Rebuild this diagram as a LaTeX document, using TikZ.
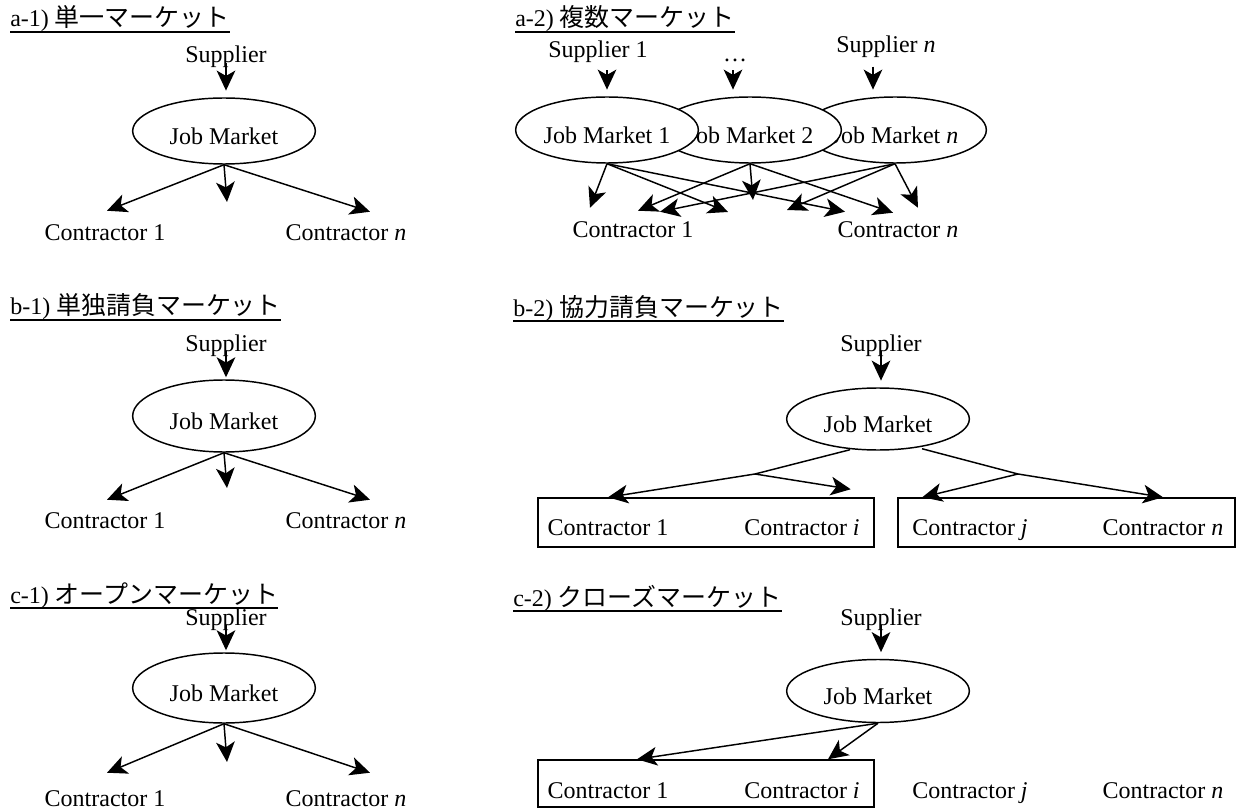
\documentclass[tikz,border=0pt]{standalone}
\usepackage{fontspec}
\setmainfont{Liberation Serif}
\newfontfamily\jpfont[Scale=1.04]{Noto Sans CJK JP}
\usetikzlibrary{arrows.meta,shapes.geometric,calc}

\tikzset{
	arr/.style={-{Stealth[length=15pt,width=14pt,inset=4pt]}, line width=1.1pt},
	feed/.style={arr, shorten >=5pt},
	jm/.style={ellipse, draw, line width=1.1pt, fill=white, inner sep=0pt, minimum width=137pt, minimum height=49.5pt, text height=20pt, text depth=0pt},
	lbl/.style={inner sep=0pt, text height=12pt, text depth=0pt},
	grp/.style={draw, line width=1.1pt, inner sep=0pt, minimum height=36.75pt},
	ttl/.style={anchor=base west, inner sep=0pt},
	uline/.style={line width=1.3pt}
}

\begin{document}
\begin{tikzpicture}[x=0.75pt, y=-0.75pt, font=\fontsize{18}{22}\selectfont]
		\useasboundingbox (0,0) rectangle (1239,809);
		
		%a-1 single market
		\node[ttl] (a1t) at (10,27) {a-1) {\jpfont 単一マーケット}};
		\node[lbl] (a1sup) at (226,55) {Supplier};
		\node[jm] (a1jm) at (224,131) {Job Market};
		\node[lbl] (a1c1) at (105,233) {Contractor 1};
		\node[lbl] (a1cn) at (346,233) {Contractor \textit{n}};
		\coordinate (a1mid) at (227,202);
		\draw[feed] (a1sup.south) -- (a1sup.south |- a1jm.north);
		\draw[arr] (a1jm.south) -- ($(a1c1.north)+(2,-14)$);
		\draw[arr] (a1jm.south) -- (a1mid);
		\draw[arr] (a1jm.south) -- ($(a1cn.north)+(24,-13)$);
		
		%b-1 single contract
		\node[ttl] (b1t) at (10,315) {b-1) {\jpfont 単独請負マーケット}};
		\node[lbl] (b1sup) at (226,343) {Supplier};
		\node[jm, minimum height=54pt] (b1jm) at (224,416) {Job Market};
		\node[lbl] (b1c1) at (105,520) {Contractor 1};
		\node[lbl] (b1cn) at (346,520) {Contractor \textit{n}};
		\coordinate (b1mid) at (227,488);
		\draw[feed, shorten >=1.5pt] (b1sup.south) -- (b1sup.south |- b1jm.north);
		\draw[arr] (b1jm.south) -- ($(b1c1.north)+(2,-12)$);
		\draw[arr] (b1jm.south) -- (b1mid);
		\draw[arr] (b1jm.south) -- ($(b1cn.north)+(24,-12)$);
		
		%c-1 open market
		\node[ttl] (c1t) at (10,603) {c-1) {\jpfont オープンマーケット}};
		\node[lbl] (c1sup) at (226,617) {Supplier};
		\node[jm, minimum height=52.5pt] (c1jm) at (224,688) {Job Market};
		\node[lbl] (c1c1) at (105,798) {Contractor 1};
		\node[lbl] (c1cn) at (346,798) {Contractor \textit{n}};
		\coordinate (c1mid) at (227,762);
		\draw[feed, shorten >=1.5pt] (c1sup.south) -- (c1sup.south |- c1jm.north);
		\draw[arr] (c1jm.south) -- ($(c1c1.north)+(2,-17)$);
		\draw[arr] (c1jm.south) -- (c1mid);
		\draw[arr] (c1jm.south) -- ($(c1cn.north)+(24,-17)$);
		
		%a-2 several markets
		\node[ttl] (a2t) at (515,27) {a-2) {\jpfont 複数マーケット}};
		\node[lbl] (a2s1) at (598,50) {Supplier 1};
		\node[lbl] (a2dots) at (735,54) {\ldots};
		\node[lbl] (a2sn) at (886,45) {Supplier \textit{n}};
		\node[jm] (a2jmn) at (895,130) {Job Market \textit{n}};
		\node[jm] (a2jm2) at (750,130) {Job Market 2};
		\node[jm] (a2jm1) at (607,130) {Job Market 1};
		\node[lbl] (a2c1) at (633,230) {Contractor 1};
		\node[lbl] (a2cn) at (898,230) {Contractor \textit{n}};
		\coordinate (a2m1) at (728,212);
		\coordinate (a2m2) at (753,200);
		\coordinate (a2m3) at (787,210);
		\draw[feed, shorten <=9pt] (a2jm1.north |- a2s1.south) -- (a2jm1.north);
		\draw[feed, shorten <=6pt] ($(a2dots.south)+(-2,0)$) -- ($(a2dots.south |- a2jm2.north)+(-2,0)$);
		\draw[feed, shorten <=10pt] ($(a2sn.south)+(-13,0)$) -- ($(a2sn.south |- a2jmn.north)+(-13,0)$);
		\draw[arr] (a2jm1.south) -- ($(a2c1.north)+(-43,-14)$);
		\draw[arr] (a2jm1.south) -- (a2m1);
		\draw[arr] (a2jm1.south) -- ($(a2cn.north)+(-53,-10)$);
		\draw[arr] (a2jm2.south) -- ($(a2c1.north)+(5,-11)$);
		\draw[arr] (a2jm2.south) -- (a2m2);
		\draw[arr] (a2jm2.south) -- ($(a2cn.north)+(-5,-9)$);
		\draw[arr] (a2jmn.south) -- ($(a2c1.north)+(27,-10)$);
		\draw[arr] (a2jmn.south) -- (a2m3);
		\draw[arr] (a2jmn.south) -- ($(a2cn.north)+(20,-14)$);
		
		%b-2 joint contract
		\node[ttl] (b2t) at (513,316) {b-2) {\jpfont 協力請負マーケット}};
		\node[lbl] (b2sup) at (881,343) {Supplier};
		\node[jm, minimum height=46.5pt] (b2jm) at (878,419) {Job Market};
		\node[lbl] (b2c1) at (608,527) {Contractor 1};
		\node[lbl] (b2ci) at (802,527) {Contractor \textit{i}};
		\node[lbl] (b2cj) at (970,527) {Contractor \textit{j}};
		\node[lbl] (b2cn) at (1163,527) {Contractor \textit{n}};
		\node[grp, minimum width=252pt] (b2gl) at (706,522.5) {};
		\node[grp, minimum width=252.75pt] (b2gr) at (1066.5,522.5) {};
		\coordinate (b2jl) at (755,474);
		\coordinate (b2jr) at (1018,474);
		\draw[feed] (b2sup.south) -- (b2sup.south |- b2jm.north);
		\draw[arr] ($(b2jm.south)+(-28,-1)$) -- (b2jl) -- (b2c1 |- b2gl.north);
		\draw[arr] (b2jl) -- ($(b2gl.north east)+(-24,-8)$);
		\draw[arr] ($(b2jm.south)+(44,-2)$) -- (b2jr) -- (b2cn |- b2gr.north);
		\draw[arr] (b2jr) -- ($(b2gr.north west)+(25,0)$);
		
		%c-2 closed market
		\node[ttl] (c2t) at (513,606) {c-2) {\jpfont クローズマーケット}};
		\node[lbl] (c2sup) at (881,617) {Supplier};
		\node[jm, minimum height=47.25pt] (c2jm) at (878,691) {Job Market};
		\node[lbl] (c2c1) at (608,790) {Contractor 1};
		\node[lbl] (c2ci) at (802,790) {Contractor \textit{i}};
		\node[lbl] (c2cj) at (970,790) {Contractor \textit{j}};
		\node[lbl] (c2cn) at (1163,790) {Contractor \textit{n}};
		\node[grp, minimum width=252pt, minimum height=35.25pt] (c2g) at (706,783.5) {};
		\draw[feed] (c2sup.south) -- (c2sup.south |- c2jm.north);
		\draw[arr] (c2jm.south) -- ($(c2c1 |- c2g.north)+(29,0)$);
		\draw[arr] (c2jm.south) -- ($(c2ci |- c2g.north)+(26,0)$);
		
		%underlined titles
		\foreach \t in {a1t,b1t,c1t,a2t,b2t,c2t}{
			\draw[uline] ($(\t.base west)+(0,5)$) -- ($(\t.base east)+(0,5)$);
		}
\end{tikzpicture}
\end{document}
